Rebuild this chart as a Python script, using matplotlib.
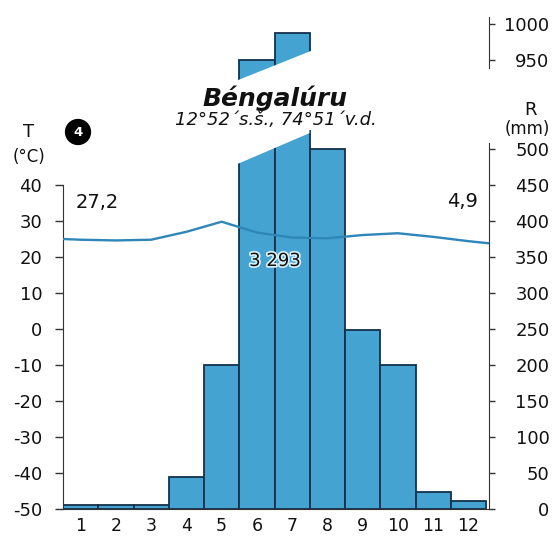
import matplotlib
matplotlib.use('Agg')
from matplotlib import pyplot as plt
from matplotlib import patheffects

# data
months = [1, 2, 3, 4, 5, 6, 7, 8, 9, 10, 11, 12]
precip = [6, 5, 5, 44, 200, 950, 988, 500, 248, 200, 23, 11]   # mm
temp = [24.8, 24.6, 24.8, 27.0, 29.8, 26.8, 25.4, 25.2, 26.1, 26.6, 25.6, 24.4]  # °C
temp_edges = [25.0, 23.8]   # where the curve meets the left / right axis
t_ticks = [-50, -40, -30, -20, -10, 0, 10, 20, 30, 40]
r_ticks_low = [0, 50, 100, 150, 200, 250, 300, 350, 400, 450, 500]
r_ticks_high = [950, 1000]
station = 'Béngalúru'
coords = '12°52´s.š., 74°51´v.d.'
mean_t = '27,2'
ampl_t = '4,9'
total_r = '3 293'

W, H = 555, 539
bar_col = '#44a3d1'
edge_col = '#14304a'
axis_col = '#333333'
line_col = '#2f86b8'
txt_col = '#111111'


def fx(x):
    return x / W


def fy(y):
    return 1 - y / H


fig = plt.figure(figsize=(W / 100, H / 100), dpi=100)
fig.patch.set_facecolor('white')

# pixel frame of the plot
left, right = 63, 489
bottom, top = 509, 130
px_mm = 0.72          # 50 mm = 36 px, 10 °C = 36 px
xmax = 0.5 + (right - left) / 35.25

ax = fig.add_axes([fx(left), fy(bottom), (right - left) / W, (bottom - top) / H])
axt = ax.twinx()
ax.set_facecolor('none')
axt.set_facecolor('none')

# precipitation bars (right axis)
ax.bar(months, precip, width=1.0, color=bar_col, edgecolor=edge_col, linewidth=1.3, zorder=2)
ax.set_xlim(0.5, xmax)
ax.set_ylim(0, (bottom - top) / px_mm)
# break of the two tallest bars (lower part)
ax.fill([5.44, 7.49, 7.49, 5.44], [479, 522, 700, 700], color='white', zorder=3, lw=0)

ax.yaxis.set_ticks_position('right')
ax.set_yticks(r_ticks_low)
ax.set_yticklabels([str(v) for v in r_ticks_low])
ax.tick_params(axis='y', which='both', left=False, labelleft=False, right=True, labelright=True,
               direction='out', length=4, width=1, color=axis_col,
               labelsize=13, pad=39.5, labelcolor=txt_col)
for lab in ax.get_yticklabels(which='both'):
    lab.set_horizontalalignment('right')
ax.set_xticks(months)
ax.set_xticklabels([str(m) for m in months])
ax.tick_params(axis='x', length=0, labelsize=12.5, pad=6, labelcolor=txt_col)
for s in ['top', 'left']:
    ax.spines[s].set_visible(False)
ax.spines['right'].set_bounds(0, 508)
ax.spines['right'].set_color(axis_col)
ax.spines['bottom'].set_color(axis_col)

# temperature on the left axis
axt.set_ylim(-50, -50 + (bottom - top) / 3.6)
axt.set_xlim(0.5, xmax)
axt.plot([0.5] + months + [xmax], [temp_edges[0]] + temp + [temp_edges[1]],
         color=line_col, lw=1.7, zorder=4)
axt.set_yticks(t_ticks)
axt.set_yticklabels([str(v) for v in t_ticks])
axt.tick_params(axis='y', which='both', left=True, labelleft=True, right=False, labelright=False,
                direction='out', length=6, width=1, color=axis_col,
                labelsize=13, pad=9, labelcolor=txt_col)
for s in ['top', 'right', 'bottom']:
    axt.spines[s].set_visible(False)
axt.spines['left'].set_visible(True)
axt.spines['left'].set_bounds(-50, 40)
axt.spines['left'].set_color(axis_col)

# upper part of the broken precipitation axis
u_bot, u_top = 95, 12
axu = fig.add_axes([fx(left), fy(u_bot), (right - left) / W, (u_bot - u_top) / H])
axu.set_facecolor('none')
axu.bar(months, precip, width=1.0, color=bar_col, edgecolor=edge_col, linewidth=1.3, zorder=2)
axu.set_xlim(0.5, xmax)
axu.set_ylim(950 - (u_bot - 60) / px_mm, 950 + (60 - u_top) / px_mm)
axu.fill([5.4, 7.6, 7.6, 5.4], [920.8, 963.9, 850, 850], color='white', zorder=3, lw=0)
axu.yaxis.tick_right()
axu.set_yticks(r_ticks_high)
axu.set_yticklabels([str(v) for v in r_ticks_high])
axu.tick_params(axis='y', direction='out', length=4, width=1, color=axis_col,
                labelsize=13, pad=39.5, labelcolor=txt_col)
for lab in axu.get_yticklabels():
    lab.set_horizontalalignment('right')
axu.set_xticks([])
for s in ['top', 'left', 'bottom']:
    axu.spines[s].set_visible(False)
axu.spines['right'].set_bounds(939, 1010)
axu.spines['right'].set_color(axis_col)

# texts
fig.text(fx(275), fy(106), station, fontsize=18, fontweight='bold', fontstyle='italic',
         ha='center', va='baseline', color=txt_col)
fig.text(fx(276), fy(125), coords, fontsize=13, fontstyle='italic',
         ha='center', va='baseline', color=txt_col)
fig.text(fx(29), fy(137), 'T', fontsize=13, ha='center', va='baseline', color=txt_col)
fig.text(fx(29), fy(162), '(°C)', fontsize=12, ha='center', va='baseline', color=txt_col)
fig.text(fx(78), fy(132), '4', fontsize=9.5, fontweight='bold', color='white',
         ha='center', va='center',
         bbox=dict(boxstyle='circle,pad=0.45', fc='black', ec='black'))
fig.text(fx(531), fy(115), 'R', fontsize=13, ha='center', va='baseline', color=txt_col)
fig.text(fx(527), fy(134), '(mm)', fontsize=12, ha='center', va='baseline', color=txt_col)
fig.text(fx(97), fy(208), mean_t, fontsize=14, ha='center', va='baseline', color=txt_col)
fig.text(fx(463), fy(207), ampl_t, fontsize=14, ha='center', va='baseline', color=txt_col)
fig.text(fx(275), fy(266), total_r, fontsize=13, ha='center', va='baseline', color=txt_col,
         path_effects=[patheffects.withStroke(linewidth=2.5, foreground='#d8eef8')], zorder=10)

plt.savefig('out.png', dpi=100, facecolor='white')
